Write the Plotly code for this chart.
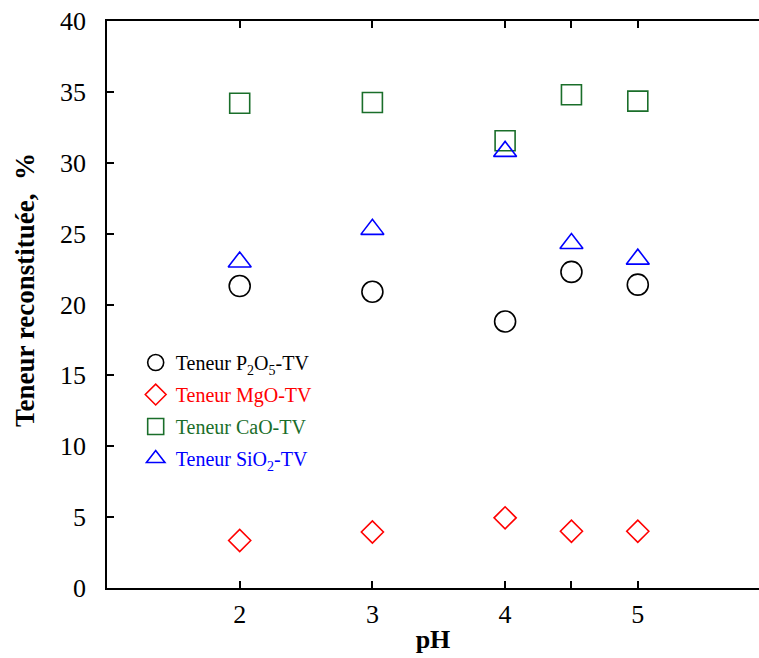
import plotly.graph_objects as go

ph = [2, 3, 4, 4.5, 5]
p2o5 = [21.3, 20.9, 18.8, 22.3, 21.4]
mgo = [3.35, 3.95, 4.95, 4.0, 4.0]
cao = [34.2, 34.25, 31.55, 34.8, 34.35]
sio2 = [23.0, 25.3, 30.8, 24.3, 23.2]

x_tickvals = [2, 3, 4, 4.5, 5]
x_ticktext = ["2", "3", "4", "", "5"]
y_tickvals = [0, 5, 10, 15, 20, 25, 30, 35, 40]

FONT = "Liberation Serif"

series = [
    ("Teneur P<sub>2</sub>O<sub>5</sub>-TV", p2o5, "circle-open", "#000000", 21),
    ("Teneur MgO-TV", mgo, "diamond-open", "#ff0000", 17),
    ("Teneur CaO-TV", cao, "square-open", "#1a6e2a", 20),
    ("Teneur SiO<sub>2</sub>-TV", sio2, "triangle-up-open", "#0000ff", 20),
]

fig = go.Figure()
for i, (name, ys, sym, col, sz) in enumerate(series):
    fig.add_trace(go.Scatter(
        x=ph, y=ys, mode="markers",
        name=f"<span style='color:{col}'>{name}</span>",
        legendgroup=f"g{i}",
        marker=dict(symbol=sym, size=sz, color=col, line=dict(color=col, width=1.6)),
    ))

W, H = 759, 658
L, T, B = 107, 21, 70
PW, PH = W - L, H - T - B
fig.update_layout(
    width=W, height=H,
    margin=dict(l=L, r=0, t=T, b=B),
    paper_bgcolor="white", plot_bgcolor="white",
    font=dict(family=FONT, size=26, color="black"),
    showlegend=True,
    legend=dict(
        x=0.044, y=0.432, xanchor="left", yanchor="top",
        font=dict(family=FONT, size=20),
        bgcolor="rgba(0,0,0,0)", itemsizing="trace",
        tracegroupgap=3,
    ),
    xaxis=dict(
        range=[1, 1 + PW / 132.7],
        tickvals=x_tickvals, ticktext=x_ticktext,
        ticks="inside", ticklen=7, tickwidth=1.5, tickcolor="black",
        showline=True, linecolor="black", linewidth=1.5,
        mirror="ticks", showgrid=False, zeroline=False,
        tickfont=dict(family=FONT, size=26),
        ticklabelstandoff=2,
        title=dict(text="<b>pH</b>", font=dict(family=FONT, size=26), standoff=2),
    ),
    yaxis=dict(
        range=[0, 40],
        tickvals=y_tickvals,
        ticks="inside", ticklen=7, tickwidth=1.5, tickcolor="black",
        showline=True, linecolor="black", linewidth=1.5,
        showgrid=False, zeroline=False,
        tickfont=dict(family=FONT, size=26),
        ticklabelstandoff=14,
    ),
    annotations=[dict(
        text="<b>Teneur reconstituée,&nbsp; %</b>",
        textangle=-90, xref="paper", yref="paper",
        x=(25 - L) / PW, y=(588 - 290) / PH,
        xanchor="center", yanchor="middle", showarrow=False,
        font=dict(family=FONT, size=27, color="black"),
    )],
)

fig.write_html(
    "out.html",
    config={"displayModeBar": False},
    post_script="document.body.style.margin='0';document.body.style.overflow='hidden';",
)
